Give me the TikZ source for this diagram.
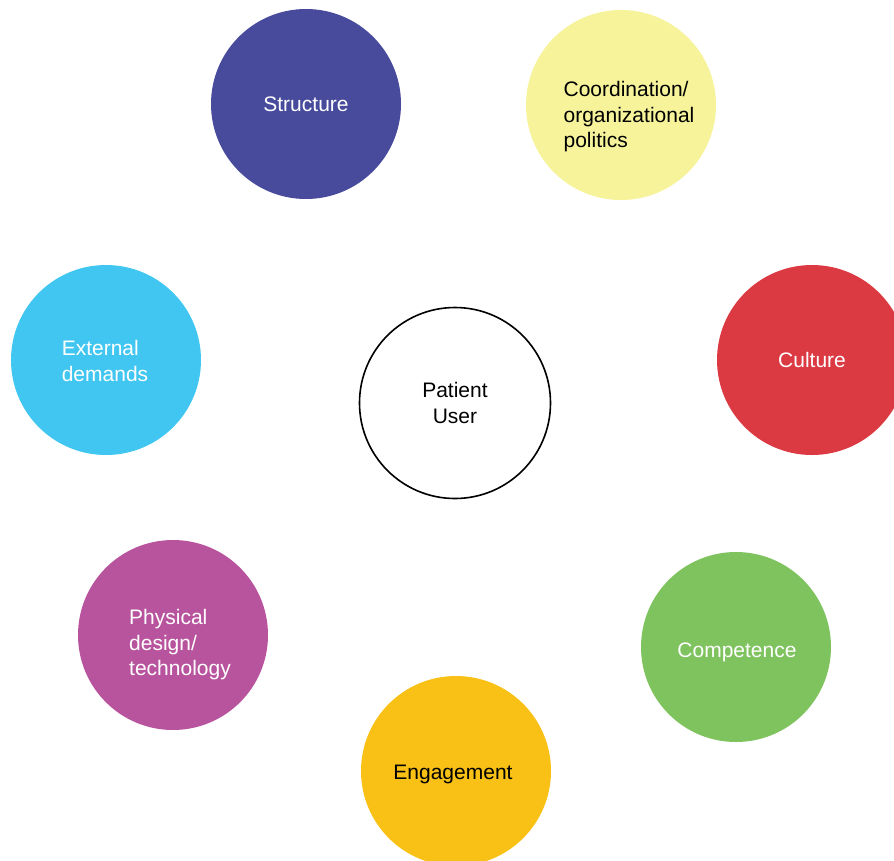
\documentclass[tikz,border=0pt]{standalone}
\usepackage{fontspec}
\setmainfont{Liberation Sans}
\definecolor{structblue}{HTML}{484A9C}
\definecolor{coordyellow}{HTML}{F6F39B}
\definecolor{culturered}{HTML}{DC3A42}
\definecolor{competgreen}{HTML}{7FC35F}
\definecolor{engageorange}{HTML}{F9C016}
\definecolor{physpurple}{HTML}{B8549E}
\definecolor{extcyan}{HTML}{40C6F0}

\begin{document}
\begin{tikzpicture}[x=1pt,y=-1pt,
        bubble/.style={circle,minimum size=190pt,inner sep=0pt},
        lbl/.style={align=left,font=\fontsize{21}{25.5}\selectfont,inner sep=0pt}]
    \useasboundingbox (0,0) rectangle (894,860);
    \clip (0,0) rectangle (894,860);
    % outer circles
    \node[bubble,fill=structblue] (structure) at (306,104) {};
    \node[bubble,fill=coordyellow] (coord) at (621,105) {};
    \node[bubble,fill=culturered] (culture) at (812,360) {};
    \node[bubble,fill=competgreen] (compet) at (736,647) {};
    \node[bubble,fill=engageorange] (engage) at (456,771) {};
    \node[bubble,fill=physpurple] (physical) at (173,635) {};
    \node[bubble,fill=extcyan] (external) at (106,360) {};
    % centre
    \node[bubble,draw=black,line width=1.6pt,minimum size=191pt] (patient) at (455,403) {};
    % texts
    \node[lbl,white] (structuretxt) at (structure.center) {Structure};
    \node[lbl] (coordtxt) at ([shift={(8,12)}]coord.center) {Coordination/\\organizational\\politics};
    \node[lbl,white] (culturetxt) at (culture.center) {Culture};
    \node[lbl,white] (compettxt) at ([shift={(1,5)}]compet.center) {Competence};
    \node[lbl] (engagetxt) at ([shift={(-3,3)}]engage.center) {Engagement};
    \node[lbl,white] (physicaltxt) at ([shift={(7,10)}]physical.center) {Physical\\design/\\technology};
    \node[lbl,white] (externaltxt) at ([shift={(-1,1)}]external.center) {External\\demands};
    \node[lbl,align=center] (patienttxt) at ([shift={(0,0)}]patient.center) {Patient\\User};
\end{tikzpicture}
\end{document}
